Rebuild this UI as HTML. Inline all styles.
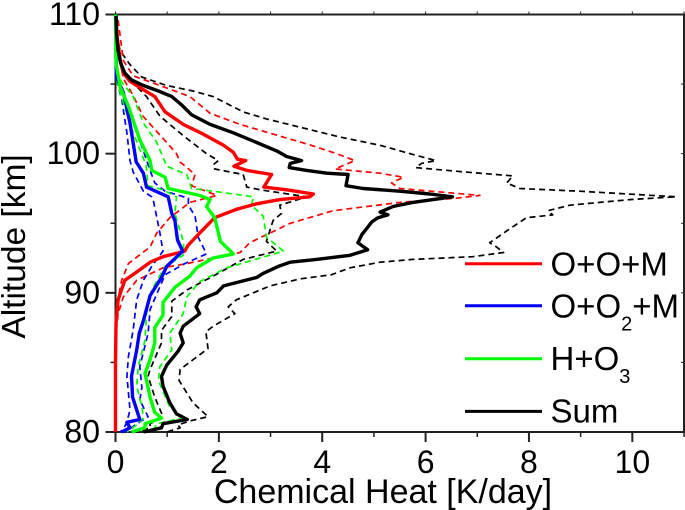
<!DOCTYPE html>
<html>
<head>
<meta charset="utf-8">
<title>Chemical Heat</title>
<style>
html,body{margin:0;padding:0;background:#fff}
svg{display:block}
text{font-family:"Liberation Sans",sans-serif;fill:#000}
</style>
</head>
<body>
<svg id="chart" width="685" height="510" viewBox="0 0 685 510" xmlns="http://www.w3.org/2000/svg">
<text x="383" y="503" font-size="34" text-anchor="middle">Chemical Heat [K/day]</text>
<text transform="translate(25,246.5) rotate(-90)" font-size="33.5" text-anchor="middle">Altitude [km]</text>
<g>
<line x1="465" x2="542" y1="263.7" y2="263.7" stroke="#f00" stroke-width="3"/>
<text x="550.5" y="275.7" font-size="33">O+O+M</text>
<line x1="465" x2="542" y1="305.7" y2="305.7" stroke="#00f" stroke-width="3"/>
<text x="550.5" y="317.3" font-size="33">O+O<tspan font-size="20" dy="13">2</tspan><tspan dy="-13">+M</tspan></text>
<line x1="465" x2="542" y1="358.7" y2="358.7" stroke="#0f0" stroke-width="3"/>
<text x="550.5" y="370" font-size="33">H+O<tspan font-size="20" dy="13">3</tspan></text>
<line x1="465" x2="542" y1="411.4" y2="411.4" stroke="#000" stroke-width="3"/>
<text x="550.5" y="422.7" font-size="33">Sum</text>
</g>
</svg>
<script>
const xMajorTicks = [0, 2, 4, 6, 8, 10];
const xMinorTicks = [1, 3, 5, 7, 9, 11];
const yMajorTicks = [80, 90, 100, 110];
const yMinorTicks = [85, 95, 105];

const sumHeat = [0.01,0.02,0.05,0.10,0.18,0.31,0.54,0.83,1.09,1.28,1.47,1.83,2.28,2.73,3.12,3.31,3.60,3.38,3.36,3.70,4.09,4.50,4.46,4.79,5.50,6.08,6.52,5.75,5.37,5.12,5.27,5.08,4.96,4.77,4.69,4.88,4.54,3.89,3.38,3.15,2.86,2.73,2.09,1.96,1.63,1.56,1.63,1.31,1.25,1.31,1.21,0.99,0.89,0.92,1.05,1.18,1.39,0.92,0.89,0.54];
const sumAlt = [109.9,108.6,107.4,106.5,105.8,105.3,104.9,104.5,104.1,103.5,102.8,102.1,101.5,100.8,100.2,99.8,99.5,99.3,99.0,98.8,98.6,98.5,97.7,97.5,97.3,97.1,96.9,96.5,96.2,95.8,95.6,95.4,95.1,94.2,93.6,93.1,92.7,92.4,92.2,91.9,91.4,91.1,90.5,90.0,89.5,89.0,88.5,87.6,87.1,86.4,85.8,84.8,84.0,83.3,82.1,81.3,80.9,80.6,80.3,80];

const ooHeat = [0.01,0.03,0.09,0.15,0.28,0.54,0.76,0.96,1.31,1.70,2.09,2.28,2.36,2.52,2.29,2.54,3.02,2.87,3.31,3.83,3.76,3.18,2.73,2.34,1.92,1.63,1.40,1.34,0.92,0.67,0.41,0.18,0.05,0.01,0,0];
const ooAlt = [109.9,108.4,106.7,105.8,105.2,104.6,104.1,103.0,102.1,101.4,100.6,100.1,99.6,99.5,99.1,98.8,98.5,97.6,97.4,97.1,96.9,96.7,96.4,96.0,95.4,94.3,93.4,93.0,92.6,92.2,91.5,90.9,89.5,87.8,85,80];

const oo2Heat = [0.01,0.01,0.02,0.15,0.28,0.40,0.54,0.60,1.02,1.09,1.15,1.20,1.30,0.99,0.89,0.67,0.54,0.46,0.41,0.31,0.33,0.47,0.22,0.28,0.12];
const oo2Alt = [110,107.4,105.5,104.4,102.2,99.4,98.6,97.6,96.9,95.7,95.2,93.8,93.0,91.9,91.1,89.8,88.0,87.1,85.9,84.0,82.5,80.9,80.7,80.3,80];

const ho3Heat = [0,0.01,0.09,0.25,0.47,0.67,0.70,0.96,1.02,1.63,1.83,1.76,1.92,2.03,2.28,1.89,1.57,1.44,1.15,0.92,0.92,0.76,0.76,0.67,0.57,0.67,0.76,0.89,0.57,0.57,0.31];
const ho3Alt = [110,106.5,104.8,103.4,101.0,99.5,98.8,98.3,97.5,97.0,96.7,96.2,95.4,93.7,92.8,92.5,91.8,91.2,90.4,89.3,88.4,87.5,86.4,85.2,84.2,82.5,81.4,81.0,80.6,80.3,80];

const sumUpperHeat = [0.02,0.09,0.28,0.51,0.99,1.50,1.89,2.47,2.92,3.57,4.34,5.12,5.70,6.20,5.92,5.81,6.72,7.69,7.57,7.82,8.98,10.85,9.95,8.79,8.37,8.46,7.95,7.59,7.24,7.37,7.51,6.91,5.75,5.12,4.54,4.18,3.57,2.99,2.34,2.18,2.31,1.89,1.75,1.79,1.25,1.23,1.50,1.79,1.44,1.21,1.25,0.99];
const sumUpperAlt = [108.6,107.4,106.4,105.5,104.9,104.5,104.1,103.0,102.5,101.9,101.2,100.6,100.0,99.5,99.3,99.0,98.7,98.4,97.9,97.5,97.3,96.9,96.7,96.3,95.9,95.6,95.4,94.5,93.6,93.3,92.9,92.6,92.4,92.2,91.8,91.3,91.0,90.5,89.5,89.0,88.5,87.6,87.2,86.0,84.5,83.7,82.1,81.1,80.8,80.5,80.3,80];

const sumLowerHeat = [0.02,0.12,0.34,0.60,0.86,1.31,1.76,1.99,1.89,1.92,2.47,2.54,2.80,3.70,3.18,3.21,3.05,2.92,3.12,2.47,1.89,1.38,1.09,1.09,0.89,0.89,0.67,0.63,0.76,0.92,0.67,0.67,0.41];
const sumLowerAlt = [107.9,106.2,105.1,104.1,102.7,101.3,100.0,99.5,99.2,98.9,98.5,97.6,97.4,96.9,96.3,95.7,95.2,93.7,93.0,92.4,91.2,90.2,89.4,88.3,87.3,86.4,84.5,84.0,82.5,81.1,80.6,80.3,80];

const ooUpperHeat = [0.05,0.15,0.34,0.86,1.44,1.83,2.41,3.70,4.28,4.63,4.25,5.12,5.57,5.34,5.50,7.05,6.60,5.50,4.21,3.38,2.60,2.41,1.89,1.38,0.92,0.41,0.15,0.05,0.01,0];
const ooUpperAlt = [109.6,106.7,105.6,104.9,104.1,102.9,102.1,100.7,100.0,99.5,98.9,98.6,98.3,97.9,97.5,97.0,96.8,96.5,95.9,95.0,93.6,92.9,92.5,92.1,91.8,90.9,89.7,88.5,87.1,80];

const ooLowerHeat = [0.05,0.15,0.34,0.53,0.99,1.18,1.25,1.54,1.47,1.96,1.44,1.05,0.80,0.67,0.25,0.12,0.02,0,0];
const ooLowerAlt = [107.4,105.4,104.2,102.7,100.8,100.0,99.4,98.5,97.7,97.0,96.5,95.4,94.3,93.3,92.1,90.9,89.0,87.1,80];

const oo2UpperHeat = [0.02,0.18,0.34,0.51,0.67,0.76,0.96,1.41,1.41,1.54,1.60,1.76,1.34,0.96,0.67,0.63,0.47,0.51,0.47,0.63,0.38,0.20];
const oo2UpperAlt = [105.5,104.1,102.2,100.5,98.8,97.9,97.3,96.8,96.3,95.5,94.0,92.8,92.1,91.3,88.8,87.1,84.7,83.2,82.3,81.1,80.5,80];

const oo2LowerHeat = [0.02,0.12,0.22,0.28,0.34,0.54,0.70,0.73,0.86,0.92,0.70,0.54,0.41,0.34,0.25,0.22,0.28,0.22,0.18,0.09];
const oo2LowerAlt = [105.3,103.9,101.5,99.5,98.7,97.3,96.9,96.7,94.3,93.0,91.9,90.9,89.5,87.3,85.4,84.0,81.6,80.7,80.4,80];

const ho3UpperHeat = [0.09,0.34,0.54,0.80,0.99,1.38,1.47,1.89,2.67,2.63,2.86,2.92,3.25,2.80,2.15,1.63,1.38,1.31,1.05,1.09,0.86,0.83,1.05,1.28,0.80,0.73,0.54];
const ho3UpperAlt = [105.3,104.1,102.2,100.8,99.1,98.5,97.5,97.3,96.9,96.3,95.5,94.0,93.0,92.5,91.8,90.8,89.7,88.5,87.1,85.9,84.7,83.7,81.8,81.0,80.6,80.1,80];

const ho3LowerHeat = [0.02,0.13,0.34,0.59,0.63,0.92,1.18,1.15,1.32,1.31,0.96,0.70,0.60,0.57,0.44,0.41,0.51,0.54,0.41,0.22];
const ho3LowerAlt = [105.3,103.9,101.5,99.2,97.7,97.4,96.9,95.7,93.6,92.7,91.9,90.2,88.5,86.6,84.7,83.3,81.8,81.0,80.5,80];

const svgNS = 'http://www.w3.org/2000/svg';
const chart = document.getElementById('chart');
const plotLeft = 115.5, plotRight = 684, plotTop = 14.5, plotBottom = 432;
const xMin = 0, xMax = 11, yMin = 80, yMax = 110;
function xScale(v) { return plotLeft + (v - xMin) / (xMax - xMin) * (plotRight - plotLeft); }
function yScale(v) { return plotBottom - (v - yMin) / (yMax - yMin) * (plotBottom - plotTop); }

function drawSeries(heat, alt, color, width, dashed, name) {
  const p = document.createElementNS(svgNS, 'polyline');
  
  
  p.setAttribute('points', heat.map(function (h, i) { return xScale(h).toFixed(1) + ',' + yScale(alt[i]).toFixed(1); }).join(' '));
  p.setAttribute('fill', 'none');
  p.setAttribute('stroke', color);
  p.setAttribute('stroke-width', width);
  p.setAttribute('stroke-linejoin', 'round');
  if (dashed) p.setAttribute('stroke-dasharray', '6 4');
  chart.appendChild(p);
}

function drawLine(x1, y1, x2, y2, width, name) {
  const l = document.createElementNS(svgNS, 'line');
  
  
  l.setAttribute('x1', x1);
  l.setAttribute('y1', y1);
  l.setAttribute('x2', x2);
  l.setAttribute('y2', y2);
  l.setAttribute('stroke', '#222');
  l.setAttribute('stroke-width', width);
  chart.appendChild(l);
}

function drawLabel(x, y, str, anchor, name) {
  const t = document.createElementNS(svgNS, 'text');
  
  
  t.setAttribute('x', x);
  t.setAttribute('y', y);
  t.setAttribute('font-size', '32');
  t.setAttribute('text-anchor', anchor);
  t.textContent = str;
  chart.appendChild(t);
}

drawLine(plotLeft, plotTop - 1, plotLeft, plotBottom + 1, 2, 'y-axis-left');
drawLine(plotRight, plotTop - 1, plotRight, plotBottom + 1, 2, 'y-axis-right');
drawLine(plotLeft, plotTop, plotRight, plotTop, 2, 'x-axis-top');
drawLine(plotLeft, plotBottom, plotRight, plotBottom, 2, 'x-axis-bottom');

xMajorTicks.forEach(function (v) {
  drawLine(xScale(v), plotBottom, xScale(v), plotBottom + 10, 2, 'x-major-tick');
  drawLine(xScale(v), plotTop, xScale(v), plotTop - 3, 1, 'x-top-tick');
  drawLabel(xScale(v), 473, String(v), 'middle', 'x-tick-label');
});
xMinorTicks.forEach(function (v) {
  drawLine(xScale(v), plotBottom, xScale(v), plotBottom + 5, 1.5, 'x-minor-tick');
  drawLine(xScale(v), plotTop, xScale(v), plotTop - 3, 1, 'x-top-tick');
});
yMajorTicks.forEach(function (v) {
  drawLine(plotLeft, yScale(v), plotLeft - 10, yScale(v), 2, 'y-major-tick');
  drawLine(plotRight, yScale(v), plotRight - 3, yScale(v), 1, 'y-right-tick');
  drawLabel(100, yScale(v) + 10.5, String(v), 'end', 'y-tick-label');
});
yMinorTicks.forEach(function (v) {
  drawLine(plotLeft, yScale(v), plotLeft - 5, yScale(v), 1.5, 'y-minor-tick');
  drawLine(plotRight, yScale(v), plotRight - 3, yScale(v), 1, 'y-right-tick');
});

drawSeries(sumUpperHeat, sumUpperAlt, '#000', 1.7, true, 'sum-upper-bound');
drawSeries(sumLowerHeat, sumLowerAlt, '#000', 1.7, true, 'sum-lower-bound');
drawSeries(ooUpperHeat, ooUpperAlt, '#f00', 1.7, true, 'o-o-m-upper-bound');
drawSeries(ooLowerHeat, ooLowerAlt, '#f00', 1.7, true, 'o-o-m-lower-bound');
drawSeries(oo2UpperHeat, oo2UpperAlt, '#00f', 1.7, true, 'o-o2-m-upper-bound');
drawSeries(oo2LowerHeat, oo2LowerAlt, '#00f', 1.7, true, 'o-o2-m-lower-bound');
drawSeries(ho3UpperHeat, ho3UpperAlt, '#0f0', 1.7, true, 'h-o3-upper-bound');
drawSeries(ho3LowerHeat, ho3LowerAlt, '#0f0', 1.7, true, 'h-o3-lower-bound');
drawSeries(ooHeat, ooAlt, '#f00', 3.4, false, 'o-o-m-line');
drawSeries(oo2Heat, oo2Alt, '#00f', 3.4, false, 'o-o2-m-line');
drawSeries(ho3Heat, ho3Alt, '#0f0', 3.4, false, 'h-o3-line');
drawSeries(sumHeat, sumAlt, '#000', 3.4, false, 'sum-line');
</script>
</body>
</html>
